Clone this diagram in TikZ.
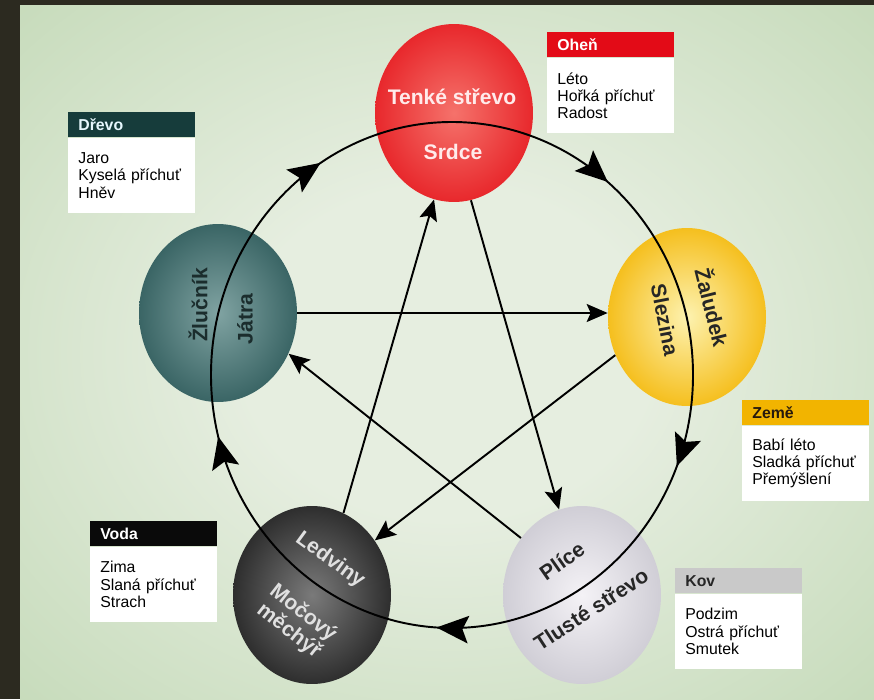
\documentclass[tikz,border=0pt]{standalone}
\usepackage{fontspec}
\setmainfont{Liberation Sans}
\usetikzlibrary{shapes.geometric,arrows.meta,positioning,decorations.markings}

\definecolor{bgframe}{HTML}{2C2A20}
\definecolor{bgin}{HTML}{E6EEE0}
\definecolor{bgout}{HTML}{B4D0A5}
\definecolor{firein}{HTML}{F5726B}
\definecolor{fireout}{HTML}{E8282C}
\definecolor{woodin}{HTML}{80A3A2}
\definecolor{woodout}{HTML}{3A6565}
\definecolor{earthin}{HTML}{FDF2B0}
\definecolor{earthout}{HTML}{F5BF1E}
\definecolor{waterin}{HTML}{7A7A7A}
\definecolor{waterout}{HTML}{2E2E2E}
\definecolor{metalin}{HTML}{F4F2F6}
\definecolor{metalout}{HTML}{D0CED6}
\definecolor{firehead}{HTML}{E30B17}
\definecolor{woodhead}{HTML}{163C3B}
\definecolor{earthhead}{HTML}{F2B400}
\definecolor{waterhead}{HTML}{0A0A0A}
\definecolor{metalhead}{HTML}{C9C9C9}
\definecolor{woodtxt}{HTML}{1B2D2D}

\pgfdeclareradialshading{bgglow}{\pgfpoint{0bp}{0bp}}{%
  color(0bp)=(bgin); color(12bp)=(bgin); color(50bp)=(bgout)}

\begin{document}
\begin{tikzpicture}[
    x=0.02cm, y=-0.02cm,
    organ/.style 2 args={
        ellipse,
        minimum width=3.16cm,
        minimum height=3.56cm,
        inner sep=0pt,
        shade,
        inner color=#1,
        outer color=#2,
    },
    organtxt/.style={
        font=\fontsize{12}{13}\selectfont\bfseries,
        text=#1,
        align=center,
        inner sep=0pt,
    },
    elhead/.style={
        rectangle,
        fill=#1,
        anchor=north west,
        minimum width=2.54cm,
        minimum height=0.5cm,
        text width=2.14cm,
        inner xsep=0.2cm,
        inner ysep=0pt,
        font=\fontsize{9}{10}\selectfont\bfseries,
        align=left,
    },
    ellist/.style={
        rectangle,
        fill=white,
        minimum width=2.54cm,
        minimum height=1.5cm,
        text width=2.14cm,
        inner xsep=0.2cm,
        inner ysep=0pt,
        font=\fontsize{9}{9.8}\selectfont,
        align=left,
    },
    flow/.style={
        -{Stealth[length=0.42cm, width=0.36cm, inset=0.08cm]},
        line width=1.1pt,
    },
    ringtips/.style={
        postaction={decorate},
        decoration={markings,
            mark=between positions 0.06 and 0.9 step 0.2 with
                {\arrow{Stealth[length=0.64cm, width=0.55cm, inset=0.12cm]}}},
    },
]

% === Background ===
\useasboundingbox (0,0) rectangle (874,699);
\fill[bgframe] (0,0) rectangle (874,699);
\shade[shading=bgglow] (20,6) rectangle (874,699);

% === Organs ===
\node[organ={firein}{fireout}] (srdce) at (454,113) {};
\node[organ={woodin}{woodout}] (jatra) at (218,313) {};
\node[organ={earthin}{earthout}] (slezina) at (687,317) {};
\node[organ={waterin}{waterout}] (ledviny) at (312,595) {};
\node[organ={metalin}{metalout}] (plice) at (582,595) {};

% === Generating cycle ===
\coordinate (ringc) at (452,375);
\draw[line width=1.1pt, ringtips] (ringc) ellipse [x radius=241, y radius=253];

% === Controlling star ===
\draw[flow] (jatra.east) -- (jatra.east -| slezina.west);
\draw[flow] (slezina.208) -- (ledviny.41);
\draw[flow] (ledviny.69) -- (srdce.257);
\draw[flow] (srdce.281) -- (plice.105);
\draw[flow] (plice.137) -- (jatra.330);

% === Organ names ===
\node[organtxt=white!92!red] (tenke) at (452,97) {Tenké střevo};
\node[organtxt=white!92!red] (srdcetxt) at (453,152) {Srdce};
\node[organtxt=woodtxt, rotate=90] (zlucnik) at (198,305) {Žlučník};
\node[organtxt=woodtxt, rotate=90] (jatratxt) at (245,319) {Játra};
\node[organtxt=black!85, rotate=-79] (slezinatxt) at (665,320) {Slezina};
\node[organtxt=black!85, rotate=-76] (zaludek) at (713,307) {Žaludek};
\node[organtxt=white!88!black, rotate=-36] (ledvinytxt) at (330,560) {Ledviny};
\node[organtxt=white!88!black, rotate=-38] (mocovy) at (296,622) {Močový\\měchýř};
\node[organtxt=black!85, rotate=35] (plicetxt) at (562,561) {Plíce};
\node[organtxt=black!85, rotate=33] (tluste) at (591,609) {Tlusté střevo};

% === Elements ===
\node[elhead=firehead, text=white] (ohen) at (547,32) {Oheň};
\node[ellist, below=0pt of ohen] (ohenlist) {Léto\\Hořká příchuť\\Radost};

\node[elhead=woodhead, text=white!90!cyan] (drevo) at (68,112) {Dřevo};
\node[ellist, below=0pt of drevo] (drevolist) {Jaro\\Kyselá příchuť\\Hněv};

\node[elhead=earthhead, text=black!80!brown] (zeme) at (742,400) {Země};
\node[ellist, below=0pt of zeme] (zemelist) {Babí léto\\Sladká příchuť\\Přemýšlení};

\node[elhead=waterhead, text=white] (voda) at (90,521) {Voda};
\node[ellist, below=0pt of voda] (vodalist) {Zima\\Slaná příchuť\\Strach};

\node[elhead=metalhead, text=black!85] (kov) at (675,568) {Kov};
\node[ellist, below=0pt of kov] (kovlist) {Podzim\\Ostrá příchuť\\Smutek};

\end{tikzpicture}
\end{document}
